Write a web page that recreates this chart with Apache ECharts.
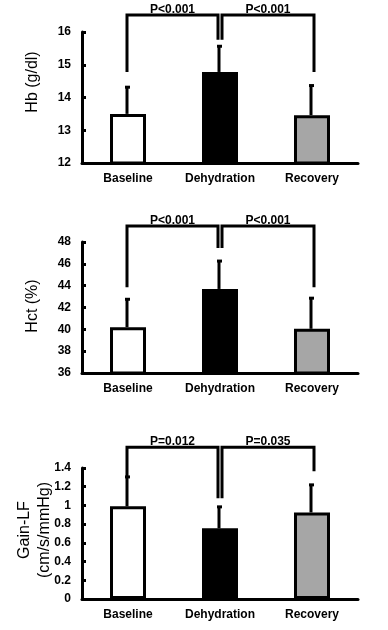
<!DOCTYPE html>
<html><head><meta charset="utf-8">
<script src="https://cdn.jsdelivr.net/npm/echarts@6/dist/echarts.min.js"></script>
<style>html,body{margin:0;padding:0;background:#fff}#c{width:388px;height:630px}</style>
</head><body><div id="c"></div>
<script>
const categories = ['Baseline', 'Dehydration', 'Recovery'];
const barColors = ['#ffffff', '#000000', '#a6a6a6'];

// Hb (g/dl)
const hbMean = [13.5, 14.78, 13.46];
const hbSD = [0.83, 0.8, 0.92];
const hbTicks = {min: 12, max: 16, interval: 1};
const hbBrackets = [[0, 1, 14.78, 15.76, 16.52, 'P<0.001'], [1, 2, 15.76, 14.78, 16.52, 'P<0.001']];

// Hct (%)
const hctMean = [40.2, 43.7, 40.05];
const hctSD = [2.6, 2.6, 2.85];
const hctTicks = {min: 36, max: 48, interval: 2};
const hctBrackets = [[0, 1, 43.86, 47.44, 49.46, 'P<0.001'], [1, 2, 47.44, 43.86, 49.46, 'P<0.001']];

// Gain-LF (cm/s/mmHg)
const gainMean = [0.99, 0.755, 0.925];
const gainSD = [0.32, 0.235, 0.3];
const gainTicks = {min: 0, max: 1.4, interval: 0.2};
const gainBrackets = [[0, 1, 1.298, 1.078, 1.623, 'P=0.012'], [1, 2, 1.078, 1.365, 1.623, 'P=0.035']];

const yNames = ['Hb (g/dl)', 'Hct (%)', 'Gain-LF\n(cm/s/mmHg)'];

const panels = [
  {mean: hbMean, sd: hbSD, ticks: hbTicks, br: hbBrackets, top: 32, bottom: 163, nx: 33, ny: 82},
  {mean: hctMean, sd: hctSD, ticks: hctTicks, br: hctBrackets, top: 242, bottom: 373, nx: 33, ny: 306},
  {mean: gainMean, sd: gainSD, ticks: gainTicks, br: gainBrackets, top: 468, bottom: 599, nx: 35, ny: 530}
];

const FONT = '"Liberation Sans", Arial, sans-serif';
const grid = [], xAxis = [], yAxis = [], series = [], graphic = [];
panels.forEach((p, k) => {
  grid.push({left: 82, right: 30, top: p.top, height: p.bottom - p.top});
  xAxis.push({
    type: 'category', gridIndex: k, data: categories,
    axisLine: {lineStyle: {color: '#000', width: 3}},
    axisTick: {inside: true, length: 3, lineStyle: {width: 3, color: '#000'}},
    axisLabel: {color: '#000', fontWeight: 'bold', fontSize: 12, fontFamily: FONT, margin: 10}
  });
  yAxis.push({
    type: 'value', gridIndex: k, min: p.ticks.min, max: p.ticks.max, interval: p.ticks.interval,
    axisLine: {show: true, lineStyle: {color: '#000', width: 3}},
    axisTick: {show: true, inside: true, length: 4, lineStyle: {width: 3, color: '#000'}},
    splitLine: {show: false},
    axisLabel: {color: '#000', fontWeight: 'bold', fontSize: 12, fontFamily: FONT, margin: 11}
  });
  graphic.push({
    type: 'text', x: p.nx, y: p.ny, rotation: Math.PI / 2,
    style: {text: yNames[k], fill: '#000', font: '16px ' + FONT, align: 'center', verticalAlign: 'middle', lineHeight: 20}
  });
  series.push({
    type: 'bar', xAxisIndex: k, yAxisIndex: k, barWidth: 36,
    data: p.mean.map((v, i) => ({value: v, itemStyle: {color: barColors[i]}})),
    itemStyle: {borderColor: '#000', borderWidth: 3},
    z: 2
  });
  series.push({
    type: 'custom', xAxisIndex: k, yAxisIndex: k, z: 3,
    data: p.mean.map((v, i) => [i, v, v + p.sd[i]]),
    renderItem: (params, api) => {
      const a = api.coord([api.value(0), api.value(1)]);
      const b = api.coord([api.value(0), api.value(2)]);
      const x = a[0] - 1;
      return {type: 'group', children: [
        {type: 'line', shape: {x1: x, y1: a[1], x2: x, y2: b[1]}, style: {stroke: '#000', lineWidth: 3}},
        {type: 'rect', shape: {x: x - 2, y: b[1] - 1, width: 5, height: 3}, style: {fill: '#000'}}
      ]};
    }
  });
  series.push({
    type: 'custom', xAxisIndex: k, yAxisIndex: k, z: 3, clip: false,
    data: p.br.map(b => [b[0], b[1], b[2], b[3], b[4]]),
    renderItem: (params, api) => {
      const i0 = api.value(0), i1 = api.value(1);
      const p0 = api.coord([i0, api.value(2)]);
      const p1 = api.coord([i1, api.value(3)]);
      const t = api.coord([i0, api.value(4)]);
      const off0 = i0 === 1 ? 2 : -1;
      const off1 = i1 === 1 ? -2 : 2;
      const x0 = p0[0] + off0, x1 = p1[0] + off1;
      return {type: 'group', children: [
        {type: 'polyline', shape: {points: [[x0, p0[1]], [x0, t[1]], [x1, t[1]], [x1, p1[1]]]},
          style: {stroke: '#000', lineWidth: 3, fill: null}},
        {type: 'text', x: (x0 + x1) / 2, y: t[1] + 1,
          style: {text: p.br[params.dataIndex][5], fill: '#000', font: 'bold 12px ' + FONT, align: 'center', verticalAlign: 'bottom'}}
      ]};
    }
  });
});

const chart = echarts.init(document.getElementById('c'), null, {renderer: 'canvas'});
chart.setOption({animation: false, backgroundColor: '#fff', grid, xAxis, yAxis, series, graphic});
</script></body></html>
